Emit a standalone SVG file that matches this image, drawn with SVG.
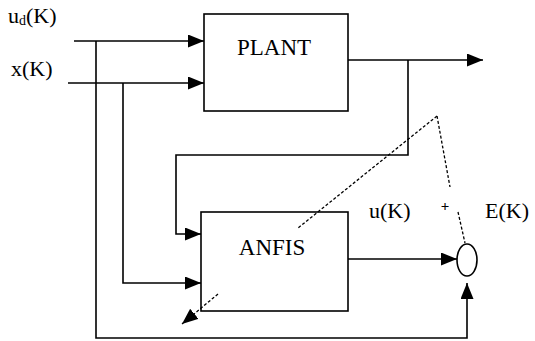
<svg xmlns="http://www.w3.org/2000/svg" width="535" height="341" viewBox="0 0 535 341">
<style>
.box{fill:none;stroke:#000;stroke-width:1.6}
.ln{fill:none;stroke:#000;stroke-width:1.6}
.dash{fill:none;stroke:#000;stroke-width:1.3;stroke-dasharray:3 2}
.t{font-family:"Liberation Serif","Times New Roman",serif;fill:#000}
</style>
<defs>
<marker id="arr" markerUnits="userSpaceOnUse" markerWidth="16" markerHeight="13" refX="16" refY="6.5" orient="auto">
<path d="M0,0 L16,6.5 L0,13 z" fill="#000"/>
</marker>
</defs>
<rect width="535" height="341" fill="#fff"/>
<g id="connectors">
<path class="ln" d="M74,41 H204" marker-end="url(#arr)"/>
<path class="ln" d="M68,83 H204" marker-end="url(#arr)"/>
<path class="ln" d="M96,41 V338 H467 V283" marker-end="url(#arr)"/>
<path class="ln" d="M123,83 V283 H201" marker-end="url(#arr)"/>
<path class="ln" d="M348,60 H483" marker-end="url(#arr)"/>
<path class="ln" d="M408,60 V155 H176 V234 H201" marker-end="url(#arr)"/>
<path class="ln" d="M348,259 H457" marker-end="url(#arr)"/>
<path class="dash" d="M437,116 L298,228"/>
<path class="dash" d="M218,294 L182,324" marker-end="url(#arr)"/>
<path class="dash" d="M437,116 L450,187"/>
<path class="dash" d="M458,212 L465,243"/>
</g>
<g id="plant">
<rect class="box" x="204" y="14" width="144" height="97"/>
<text class="t" x="274" y="55" font-size="23" text-anchor="middle">PLANT</text>
</g>
<g id="anfis">
<rect class="box" x="201" y="212" width="147" height="99"/>
<text class="t" x="272" y="255" font-size="23" text-anchor="middle">ANFIS</text>
</g>
<g id="sum">
<ellipse class="box" cx="467" cy="260" rx="10" ry="16"/>
</g>
<g id="labels">
<text class="t" x="8" y="23" font-size="22">u<tspan font-size="14" dy="2">d</tspan><tspan dy="-2">(K)</tspan></text>
<text class="t" x="11" y="76" font-size="22">x(K)</text>
<text class="t" x="369" y="218" font-size="22">u(K)</text>
<text class="t" x="485" y="218" font-size="22">E(K)</text>
<text class="t" x="445" y="211" font-size="15" font-weight="bold" text-anchor="middle">+</text>
</g>
</svg>
